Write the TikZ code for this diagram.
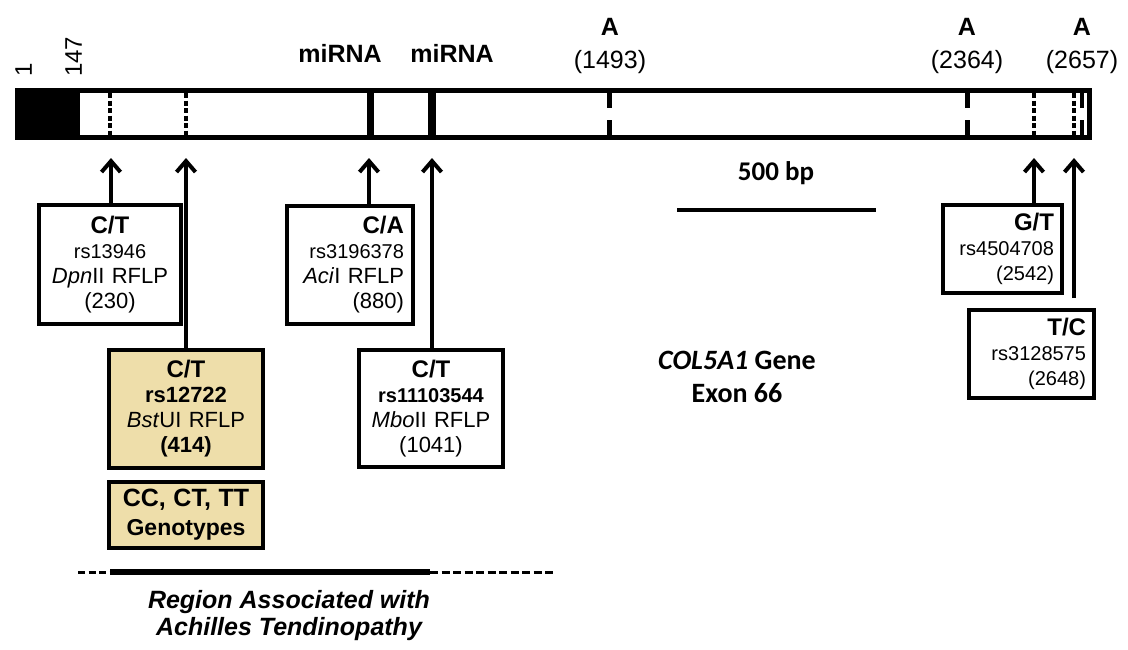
\documentclass[tikz,border=0pt]{standalone}
\usepackage{fontspec}
\setmainfont{Liberation Sans}
\newfontfamily\calibrifont{Carlito}
\usetikzlibrary{arrows.meta}

\definecolor{genotan}{RGB}{238,222,170}
\newcommand{\fsz}[2]{\fontsize{#1}{#2}\selectfont}
\newcommand{\snphead}[1]{{\fsz{24}{25}\bfseries #1}}
\newcommand{\rsid}[1]{{\fsz{20}{25}#1}}

\begin{document}
\begin{tikzpicture}[x=1pt,y=-1pt,
  snpbox/.style={draw,line width=4pt,inner sep=0pt,inner xsep=9pt,font=\fsz{22}{25}},
  snpfill/.style={snpbox,fill=genotan},
  snpsmall/.style={snpbox,align=right,inner xsep=8pt,font=\fsz{20}{25}},
  snparrow/.style={line width=4pt,-{Straight Barb[length=11pt,width=19pt]}},
  dotmark/.style={line width=4.5pt,dash pattern=on 5pt off 2.5pt},
  toplabel/.style={anchor=base,inner sep=0pt}]

\useasboundingbox (0,0) rectangle (1128,649);

% Exon bar
\fill (15,88) rectangle (80,140);
\draw[line width=5pt] (17.5,90.5) rectangle (1089.5,137.5);

% Sites inside the bar
\foreach \x in {110,186,1034,1074}
  \draw[dotmark] (\x,93) -- (\x,135);
\draw[line width=7pt] (370,93) -- (370,135);
\draw[line width=8pt] (432,93) -- (432,135);
\foreach \x/\w in {609/5,967/5,1082/4}
  \draw[line width=\w pt] (\x,93) -- (\x,108) (\x,120) -- (\x,135);

% Positions at the start
\node[rotate=90,anchor=west,inner sep=0pt,font=\fsz{24}{24}] (pos1) at (23.5,77) {1};
\node[rotate=90,anchor=west,inner sep=0pt,font=\fsz{24}{24}] (pos147) at (73.5,77) {147};

% miRNA sites
\node[toplabel,font=\fsz{25}{25}\bfseries] (mir1) at (340,62) {miRNA};
\node[toplabel,font=\fsz{25}{25}\bfseries] (mir2) at (452,62) {miRNA};

% Polyadenylation signals
\foreach \x/\n/\p in {610/polya1/1493, 967/polya2/2364, 1082/polya3/2657}{
  \node[toplabel,font=\fsz{25}{25}\bfseries] (\n) at (\x,35) {A};
  \node[toplabel,font=\fsz{25}{25}] (\n pos) at (\x,68) {(\p)};
}

% SNP sites
\coordinate (s230) at (111,158);
\coordinate (s414) at (186,158);
\coordinate (s880) at (369,158);
\coordinate (s1041) at (432,158);
\coordinate (s2542) at (1034,158);
\coordinate (s2648) at (1074,158);

% SNP boxes
\node[snpbox,text width=124pt,minimum height=119pt,align=center] (dpn) at (110,264.5)
  {\snphead{C/T}\\\rsid{rs13946}\\\textit{Dpn}II RFLP\\(230)};
\node[snpfill,text width=136pt,minimum height=118pt,align=center] (bst) at (186,409)
  {\snphead{C/T}\\\textbf{rs12722}\\\textit{Bst}UI RFLP\\\textbf{(414)}};
\node[snpfill,text width=136pt,minimum height=66pt,align=center,font=\fsz{23}{29}\bfseries] (geno) at (186,515)
  {{\fsz{25}{29}CC, CT, TT}\\Genotypes};
\node[snpbox,text width=108pt,minimum height=118pt,align=right] (aci) at (350,265)
  {\snphead{C/A}\\\rsid{rs3196378}\\\textit{Aci}I RFLP\\(880)};
\node[snpbox,text width=126pt,minimum height=117pt,align=center] (mbo) at (431,408.5)
  {\snphead{C/T}\\\rsid{\bfseries rs11103544}\\\textit{Mbo}II RFLP\\(1041)};
\node[snpsmall,text width=103pt,minimum height=88pt] (gt) at (1002.5,249)
  {\snphead{G/T}\\rs4504708\\(2542)};
\node[snpsmall,text width=109pt,minimum height=88pt] (tc) at (1031.5,354)
  {\snphead{T/C}\\rs3128575\\(2648)};

% Arrows to the bar
\draw[snparrow] (dpn.north -| s230) -- (s230);
\draw[snparrow] (bst.north -| s414) -- (s414);
\draw[snparrow] (aci.north -| s880) -- (s880);
\draw[snparrow] (mbo.north -| s1041) -- (s1041);
\draw[snparrow] (gt.north -| s2542) -- (s2542);
\draw[snparrow,shorten <=10pt] (tc.north -| s2648) -- (s2648);

% Scale bar
\node[toplabel,font=\calibrifont\fsz{27}{27}\bfseries] (scale) at (776,180) {500 bp};
\draw[line width=4pt] (677,210) -- (876,210);

% Gene name
\node[align=center,inner sep=0pt,font=\calibrifont\fsz{28}{33}\bfseries] (gene) at (737,377)
  {\textit{COL5A1} Gene\\Exon 66};

% Associated region
\draw[line width=3pt,dash pattern=on 7pt off 3.5pt] (78,572) -- (110,572);
\draw[line width=6pt] (110,572) -- (430,572);
\draw[line width=3pt,dash pattern=on 8pt off 3.5pt] (430,572) -- (555,572);
\node[align=center,inner sep=0pt,font=\fsz{25}{27}\bfseries\itshape] (region) at (289,616)
  {Region Associated with\\Achilles Tendinopathy};

\end{tikzpicture}
\end{document}
